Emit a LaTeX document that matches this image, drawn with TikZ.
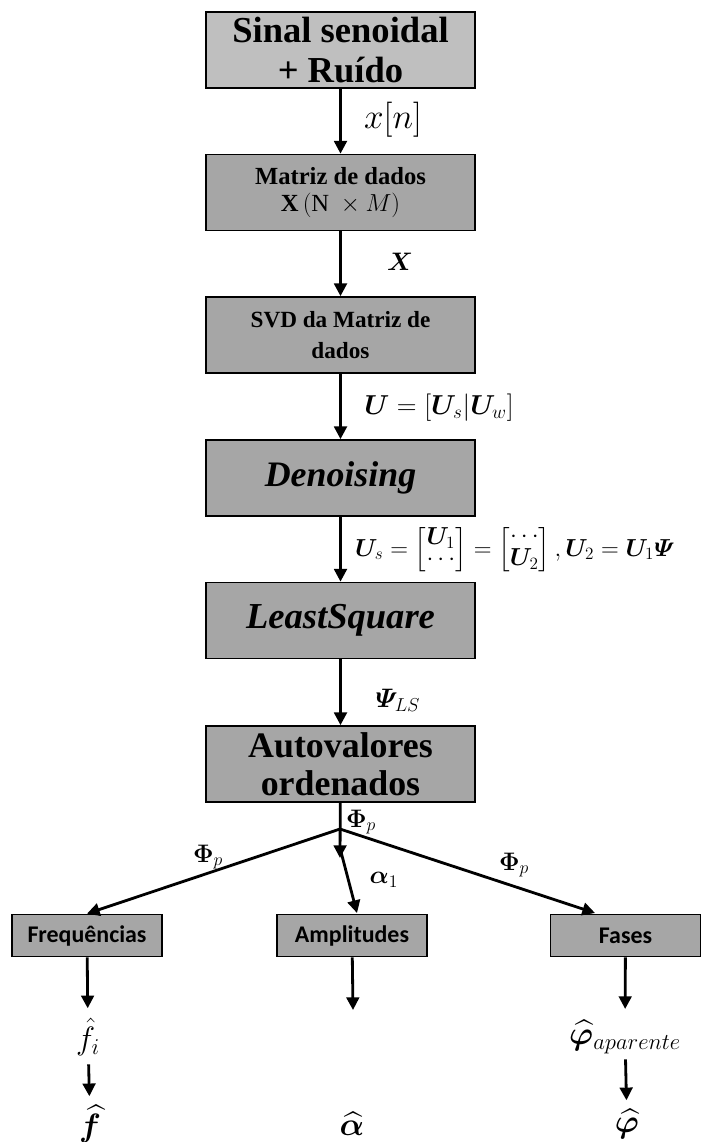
\RequirePackage{fix-cm}
\documentclass[tikz,border=0pt]{standalone}
\usepackage{amsmath}
\usepackage{amssymb}
\usepackage{bm}
\usepackage{fontspec}
\setmainfont{Liberation Serif}
\newfontfamily\calibri{Carlito}
\usepackage{tikz}
\usetikzlibrary{shapes,arrows.meta}
\definecolor{flowgray}{rgb}{0.65,0.65,0.65}
\definecolor{srcgray}{rgb}{0.75,0.75,0.75}
\tikzstyle{flowbox}=[rectangle, draw, line width=1.2pt, fill=flowgray, minimum height=1.9cm, minimum width=6.725cm, align=center, inner sep=0pt]
\tikzstyle{resbox}=[rectangle, draw, line width=1.2pt, fill=flowgray, minimum height=1.05cm, minimum width=3.75cm, font=\calibri\bfseries\fontsize{17}{19}\selectfont]
\tikzstyle{flow}=[->, line width=2pt]
\tikzstyle{lbl}=[inner sep=1pt]
\tikzstyle{outlbl}=[inner sep=0pt, font=\fontsize{23}{26}\selectfont]
\newcommand{\flowbox}[4][]{
	\node[flowbox,#1] (#2) at (#3) {#4};}
\newcommand{\resbox}[3]{
	\node[resbox] (#1) at (#2) {#3};}

\begin{document}
\begin{tikzpicture}[x=0.025cm, y=-0.025cm, >={Triangle[length=9pt,width=9pt]}]
\useasboundingbox (0,0) rectangle (701,1142);
\flowbox[fill=srcgray, font=\bfseries\fontsize{26}{28}\selectfont]{sinal}{340.5,50}{Sinal senoidal\\+ Ruído}
\flowbox[font=\fontsize{17.5}{19}\selectfont]{matriz}{340.5,192.5}{\textbf{Matriz de dados}\\$\mathbf{X}\,(\mathrm{N}\ \times M)$}
\flowbox[font=\bfseries\fontsize{16.5}{21.5}\selectfont]{svd}{340.5,335}{SVD da Matriz de\\dados}
\flowbox[font=\bfseries\itshape\fontsize{25.5}{28}\selectfont]{denoise}{340.5,478}{Denoising}
\flowbox[font=\bfseries\itshape\fontsize{26}{28}\selectfont]{lsq}{340.5,620.5}{LeastSquare}
\flowbox[font=\bfseries\fontsize{25.5}{27}\selectfont]{autoval}{340.5,764}{Autovalores\\ordenados}
\resbox{freq}{87,935.5}{Frequências}
\resbox{amp}{352,935.5}{Amplitudes}
\resbox{fases}{625.5,935.5}{Fases}
% labels on the arrows
\node[lbl, font=\fontsize{25}{28}\selectfont] (xn) at (393,120) {$x[n]$};
\node[lbl, font=\fontsize{18}{20}\selectfont] (xmat) at (400,262) {$\bm{X}$};
\node[lbl, font=\fontsize{19.5}{22}\selectfont] (ueq) at (439,408) {$\bm{U}=[\bm{U}_s|\bm{U}_w]$};
\node[lbl, font=\fontsize{17.5}{19}\selectfont] (useq) at (515,550) {\renewcommand{\arraystretch}{0.8}$\bm{U}_s=\begin{bmatrix}\bm{U}_1\\ \cdots\end{bmatrix}=\begin{bmatrix}\cdots\\ \bm{U}_2\end{bmatrix},\bm{U}_2=\bm{U}_1\bm{\varPsi}$};
\node[lbl, font=\fontsize{19}{22}\selectfont] (psils) at (398,700) {$\bm{\varPsi}_{LS}$};
\node[lbl, font=\fontsize{18}{20}\selectfont] (phitop) at (361,822) {$\bm{\Phi}_p$};
\node[lbl, font=\fontsize{18}{20}\selectfont] (phileft) at (208,857) {$\bm{\Phi}_p$};
\node[lbl, font=\fontsize{18}{20}\selectfont] (phiright) at (514,865) {$\bm{\Phi}_p$};
\node[lbl, font=\fontsize{18}{20}\selectfont] (alpha1) at (384,880) {$\bm{\alpha}_1$};
% results
\node[outlbl] (fhati) at (88,1037) {$\hat{f}_i$};
\node[outlbl] (fhat) at (90,1124) {$\widehat{\bm{f}}$};
\node[outlbl] (alphahat) at (352,1124) {$\widehat{\bm{\alpha}}$};
\node[outlbl] (phiap) at (625,1037) {$\widehat{\bm{\varphi}}_{aparente}$};
\node[outlbl] (phihat) at (627,1124) {$\widehat{\bm{\varphi}}$};
\coordinate (split) at (340,829);
\coordinate (bend) at (340,858);
\coordinate (bendtop) at (340,848);
\coordinate (ampin) at (357,913);
\coordinate (fasesin) at (595,913);
\coordinate (ampout) at (353,1010);
\path[flow] (sinal) edge (matriz);
\path[flow] (matriz) edge (svd);
\path[flow] (svd) edge (denoise);
\path[flow] (denoise) edge (lsq);
\path[flow] (lsq) edge (autoval);
\path[flow] (autoval) edge (bend);
\path[flow] (split) edge (freq.north);
\path[flow] (bendtop) edge (ampin);
\path[flow] (split) edge (fasesin);
\path[flow] (freq) edge[shorten >=7pt] (fhati);
\path[flow] (amp) edge (ampout);
\path[flow] (fases) edge[shorten >=8pt] (phiap);
\path[flow] (fhati) edge[shorten <=6pt, shorten >=6pt] (fhat);
\path[flow] (phiap) edge[shorten <=4pt, shorten >=6pt] (phihat);
\end{tikzpicture}
\end{document}
